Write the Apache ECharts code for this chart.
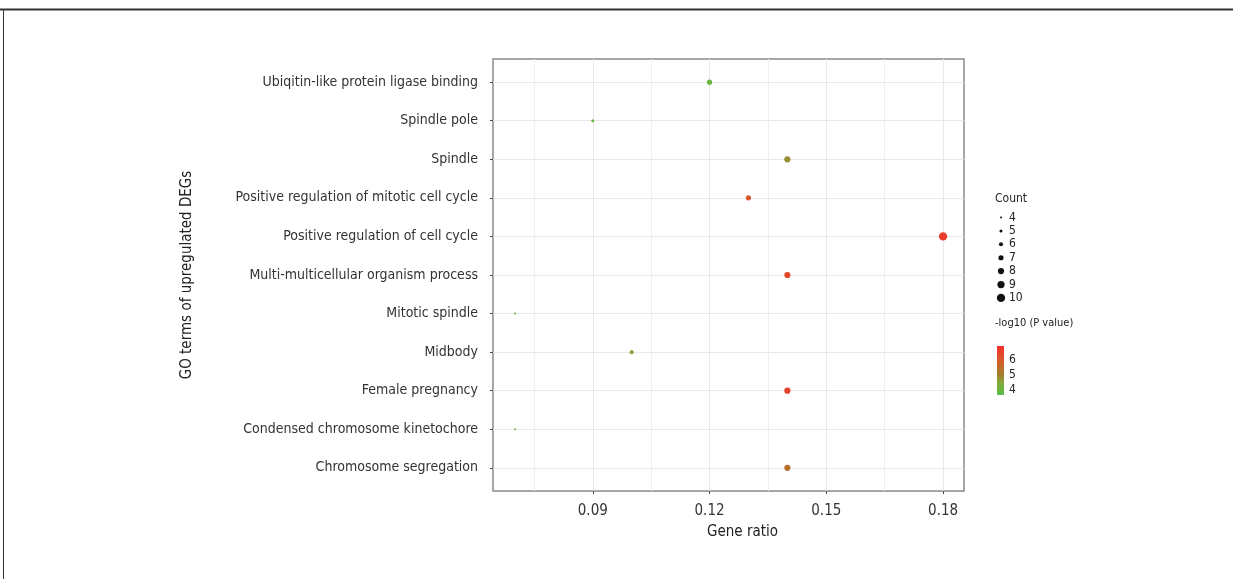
<!DOCTYPE html>
<html>
<head>
<meta charset="utf-8">
<script src="https://cdn.jsdelivr.net/npm/echarts@6/dist/echarts.min.js"></script>
<style>
  html, body { margin: 0; padding: 0; background: #fff; }
  #chart { width: 1233px; height: 579px; }
  #warm { position: absolute; left: -9999px; font-family: "Liberation Sans Narrow"; }
</style>
</head>
<body>
<div id="warm">Warm up font 0123456789</div>
<div id="chart"></div>
<script>
// ---- data ----
const categories = [
  'Ubiqitin-like protein ligase binding',
  'Spindle pole',
  'Spindle',
  'Positive regulation of mitotic cell cycle',
  'Positive regulation of cell cycle',
  'Multi-multicellular organism process',
  'Mitotic spindle',
  'Midbody',
  'Female pregnancy',
  'Condensed chromosome kinetochore',
  'Chromosome segregation'
];
const geneRatio = [0.12, 0.09, 0.14, 0.13, 0.18, 0.14, 0.07, 0.10, 0.14, 0.07, 0.14];
const counts    = [7, 5, 8, 7, 10, 8, 4, 6, 8, 4, 8];
const negLogP   = [4.0, 3.9, 5.0, 6.3, 6.7, 6.5, 4.0, 4.5, 6.6, 4.0, 5.7];
const xTicks      = [0.09, 0.12, 0.15, 0.18];
const xMinorTicks = [0.075, 0.105, 0.135, 0.165];
const countLevels = [4, 5, 6, 7, 8, 9, 10];
const pTicks      = [4, 5, 6];

// ---- styling ----
const FONT = '"Liberation Sans Narrow", "DejaVu Sans Condensed", "Noto Sans", sans-serif';
const pMin = 3.67, pMax = 6.93;
const colorStops = [
  [3.67, '#58bd47'],
  [4.5,  '#86a83a'],
  [5.0,  '#a0802c'],
  [5.8,  '#d2602a'],
  [6.93, '#f3302b']
];
function sizeOf(c) { return 2 + (c - 4) * 1.05; }

const data = categories.map((c, i) => [geneRatio[i], i, negLogP[i], counts[i]]);

function buildGraphics() {
  const graphics = [];
  graphics.push({ type: 'line', shape: { x1: 0, y1: 9.5, x2: 1233, y2: 9.5 }, style: { stroke: '#333', lineWidth: 2 } });
  graphics.push({ type: 'line', shape: { x1: 3.5, y1: 9, x2: 3.5, y2: 579 }, style: { stroke: '#333', lineWidth: 1 } });
  const legX = 995;
  const LFONT = '12px ' + FONT;
  graphics.push({ type: 'text', x: legX, y: 199, style: { text: 'Count', font: LFONT, fill: '#222', verticalAlign: 'middle' } });
  countLevels.forEach((c, k) => {
    const y = 217.5 + k * 13.4;
    graphics.push({ type: 'circle', shape: { cx: 1001, cy: y, r: sizeOf(c) / 2 }, style: { fill: '#111' } });
    graphics.push({ type: 'text', x: 1009, y: y, style: { text: String(c), font: LFONT, fill: '#222', verticalAlign: 'middle' } });
  });
  graphics.push({ type: 'text', x: legX, y: 323, style: { text: '-log10 (P value)', font: '11px ' + FONT, fill: '#222', verticalAlign: 'middle' } });
  const barTop = 346, barBot = 395, barX = 997, barW = 7;
  graphics.push({
    type: 'rect', shape: { x: barX, y: barTop, width: barW, height: barBot - barTop },
    style: {
      fill: new echarts.graphic.LinearGradient(0, 1, 0, 0,
        colorStops.map(s => ({ offset: (s[0] - pMin) / (pMax - pMin), color: s[1] })))
    }
  });
  pTicks.forEach(v => {
    const y = barBot - (v - pMin) / (pMax - pMin) * (barBot - barTop);
    graphics.push({ type: 'text', x: 1009, y: y, style: { text: String(v), font: LFONT, fill: '#222', verticalAlign: 'middle' } });
  });
  return graphics;
}

function buildOption() {
  return {
    backgroundColor: '#fff',
    animation: false,
    grid: { left: 493, top: 59, width: 471, height: 432, show: true, borderColor: '#8a8a8a', borderWidth: 1.5, backgroundColor: 'transparent' },
    xAxis: [{
      type: 'value', min: 0.06436, max: 0.18538, position: 'bottom',
      name: 'Gene ratio', nameLocation: 'middle', nameGap: 34,
      nameTextStyle: { fontFamily: FONT, fontSize: 15, color: '#222', padding: [0, 0, 0, 28] },
      axisLine: { show: false, onZero: false },
      axisTick: { show: true, length: 3, lineStyle: { color: '#444' }, customValues: xTicks },
      axisLabel: { show: true, customValues: xTicks, formatter: v => v.toFixed(2), fontFamily: FONT, fontSize: 15, color: '#333', margin: 13 },
      splitLine: { show: true, lineStyle: { color: '#e8e8e8', width: 1 } }
    }, {
      type: 'value', min: 0.06436, max: 0.18538, position: 'bottom',
      axisLine: { show: false, onZero: false }, axisLabel: { show: false },
      axisTick: { show: false, customValues: xMinorTicks },
      splitLine: { show: true, lineStyle: { color: '#efefef', width: 1 } }
    }],
    yAxis: {
      type: 'value', min: -0.6, max: 10.6, inverse: true,
      name: 'GO terms of upregulated DEGs', nameLocation: 'middle', nameGap: 298, nameRotate: 90,
      nameTextStyle: { fontFamily: FONT, fontSize: 15, color: '#222' },
      axisLine: { show: false, onZero: false },
      axisTick: { show: true, length: 3, lineStyle: { color: '#444' }, customValues: categories.map((c, i) => i) },
      axisLabel: { show: true, customValues: categories.map((c, i) => i), formatter: v => categories[Math.round(v)], fontFamily: FONT, fontSize: 14, color: '#333', margin: 15 },
      splitLine: { show: true, lineStyle: { color: '#e8e8e8', width: 1 } }
    },
    visualMap: {
      show: false, type: 'continuous', dimension: 2, min: pMin, max: pMax, seriesIndex: 0,
      inRange: { color: colorStops.map(s => s[1]) }
    },
    series: [{
      type: 'scatter', xAxisIndex: 0, yAxisIndex: 0,
      data: data,
      symbol: 'circle',
      symbolSize: d => sizeOf(d[3]),
      itemStyle: { opacity: 1 }
    }],
    graphic: buildGraphics()
  };
}

// warm up the canvas font
(function () {
  const c = document.createElement('canvas').getContext('2d');
  c.font = '16px ' + FONT;
  c.fillText('warm', 0, 10);
  c.measureText('Positive regulation');
})();

const chart = echarts.init(document.getElementById('chart'), null, { renderer: 'canvas' });
chart.setOption(buildOption());
setTimeout(function () {
  chart.clear();
  chart.setOption(buildOption(), true);
}, 300);
</script>
</body>
</html>
